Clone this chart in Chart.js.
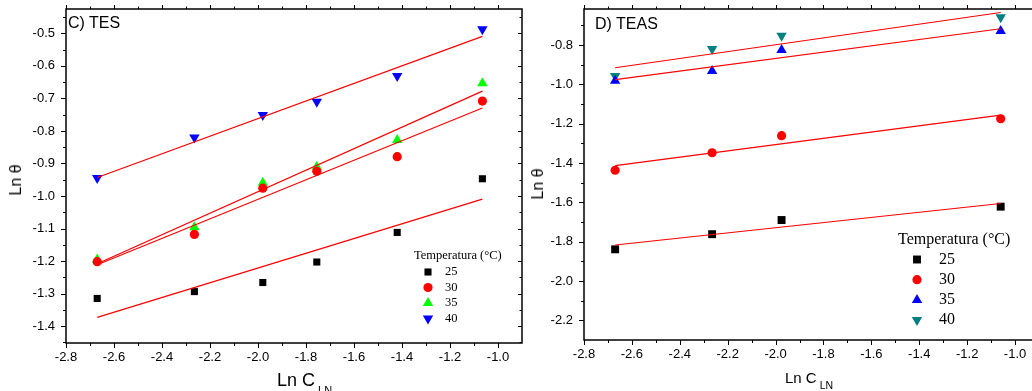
<!DOCTYPE html>
<html lang="pt-br">
<head>
    <meta charset="UTF-8">
    <title>Ln θ x Ln C - TES / TEAS</title>
    <script src="https://cdn.jsdelivr.net/npm/chart.js"></script>
    <style>
        body {
            margin: 0;
            width: 1032px;
            height: 391px;
            overflow: hidden;
            position: relative;
            background: #fff;
            font-family: Arial, "Liberation Sans", sans-serif;
            color: #000;
        }
        .painel {
            position: absolute;
            top: 0;
            height: 391px;
        }
        #painelC { left: 0; width: 530px; }
        #painelD { left: 530px; width: 520px; }
        .texto {
            position: absolute;
            line-height: 1;
            white-space: nowrap;
        }
        .rotulo-y {
            transform: translate(-50%, -50%) rotate(-90deg);
        }
        .texto sub {
            line-height: 1;
        }
    </style>
</head>
<body>
    <div class="painel" id="painelC"><canvas id="graficoTES"></canvas></div>
    <div class="painel" id="painelD"><canvas id="graficoTEAS"></canvas></div>

    <!-- titulos dos paineis e dos eixos -->
    <div class="texto" style="left:68px; top:15px; font-size:16px;">C) TES</div>
    <div class="texto" style="left:595px; top:16px; font-size:16px;">D) TEAS</div>
    <div class="texto rotulo-y" style="left:16px; top:180px; font-size:16px;">Ln θ</div>
    <div class="texto rotulo-y" style="left:538px; top:184px; font-size:16px;">Ln θ</div>
    <div class="texto" style="left:277px; top:371px; font-size:18px;">Ln C<sub style="font-size:11px; vertical-align:-8px; margin-left:3px;">LN</sub></div>
    <div class="texto" style="left:785px; top:370px; font-size:15px;">Ln C<sub style="font-size:10.5px; vertical-align:-5.5px; margin-left:3px;">LN</sub></div>

    <script>
        // Dados (Ln C no eixo x, Ln theta no eixo y)
        const lnC_TES = [-2.67, -2.265, -1.98, -1.755, -1.42, -1.065];
        const tes25 = [-1.315, -1.294, -1.266, -1.203, -1.112, -0.947];
        const tes30 = [-1.202, -1.118, -0.976, -0.924, -0.879, -0.708];
        const tes35 = [-1.195, -1.096, -0.959, -0.910, -0.828, -0.653];
        const tes40 = [-0.945, -0.820, -0.751, -0.710, -0.631, -0.487];

        const lnC_TEAS = [-2.67, -2.265, -1.975, -1.06];
        const teas25 = [-1.839, -1.762, -1.690, -1.622];
        const teas30 = [-1.437, -1.348, -1.261, -1.175];
        const teas35 = [-0.982, -0.932, -0.825, -0.729];
        const teas40 = [-0.958, -0.820, -0.753, -0.659];

        const temperaturas = ['25', '30', '35', '40'];

        // marcas dos eixos
        const eixoX = [-2.8, -2.6, -2.4, -2.2, -2.0, -1.8, -1.6, -1.4, -1.2, -1.0];
        const eixoY_TES = [-1.4, -1.3, -1.2, -1.1, -1.0, -0.9, -0.8, -0.7, -0.6, -0.5];
        const eixoY_TEAS = [-2.2, -2.0, -1.8, -1.6, -1.4, -1.2, -1.0, -0.8];

        Chart.defaults.font.family = 'Arial, "Liberation Sans", sans-serif';
        Chart.defaults.font.size = 13;
        Chart.defaults.color = '#000';

        // reta de ajuste (minimos quadrados) entre o menor e o maior x
        function ajuste(x, y) {
            const n = x.length;
            const mx = x.reduce((a, b) => a + b, 0) / n;
            const my = y.reduce((a, b) => a + b, 0) / n;
            let sxy = 0, sxx = 0;
            for (let i = 0; i < n; i++) {
                sxy += (x[i] - mx) * (y[i] - my);
                sxx += (x[i] - mx) * (x[i] - mx);
            }
            const b = sxy / sxx;
            const a = my - b * mx;
            const x0 = Math.min(...x), x1 = Math.max(...x);
            return [{ x: x0, y: a + b * x0 }, { x: x1, y: a + b * x1 }];
        }

        function pontos(x, y) {
            return x.map((v, i) => ({ x: v, y: y[i] }));
        }

        // moldura com marcas maiores e menores nos quatro lados
        const moldura = {
            id: 'moldura',
            afterDraw(chart, args, o) {
                const { ctx, chartArea: a, scales: { x, y } } = chart;
                const menores = (lista, passo, min, max) => {
                    const m = lista.map(v => v + passo / 2);
                    m.push(lista[0] - passo / 2);
                    return m.filter(v => v > min && v < max);
                };
                ctx.save();
                ctx.strokeStyle = '#000';
                ctx.lineWidth = 1;
                const linha = (x0, y0, x1, y1) => {
                    ctx.beginPath();
                    ctx.moveTo(x0, y0);
                    ctx.lineTo(x1, y1);
                    ctx.stroke();
                };
                const marcarX = (valores, tam, tamTopo) => {
                    valores.forEach(v => {
                        const px = Math.round(x.getPixelForValue(v)) + 0.5;
                        linha(px, a.bottom, px, a.bottom + tam);
                        linha(px, a.top, px, a.top - tamTopo);
                    });
                };
                const marcarY = (valores, tam, tamDir) => {
                    valores.forEach(v => {
                        const py = Math.round(y.getPixelForValue(v)) + 0.5;
                        linha(a.left, py, a.left - tam, py);
                        linha(a.right, py, a.right - tamDir, py);
                    });
                };
                marcarX(o.xs, 5, 4);
                marcarX(menores(o.xs, o.passoX, x.min, x.max), 3, 2.5);
                marcarY(o.ys, 5, 4);
                marcarY(menores(o.ys, o.passoY, y.min, y.max), 3, 2.5);
                ctx.lineWidth = 1.5;
                ctx.strokeRect(a.left, a.top, a.right - a.left, a.bottom - a.top);
                ctx.restore();
            }
        };

        // legenda "Temperatura (°C)" dentro da area do grafico
        const legendaTemp = {
            id: 'legendaTemp',
            afterDatasetsDraw(chart, args, o) {
                const ctx = chart.ctx;
                ctx.save();
                ctx.font = o.fonte + 'px "Liberation Serif", "Times New Roman", serif';
                ctx.fillStyle = '#000';
                ctx.textAlign = 'left';
                ctx.textBaseline = 'middle';
                ctx.fillText('Temperatura (°C)', o.x, o.y);
                const series = chart.data.datasets.filter(d => d.marcador);
                series.forEach((d, i) => {
                    const yy = o.y0 + i * o.passo;
                    ctx.fillStyle = d.backgroundColor;
                    ctx.strokeStyle = d.backgroundColor;
                    Chart.helpers.drawPoint(ctx, {
                        pointStyle: d.pointStyle,
                        radius: d.pointRadius,
                        rotation: d.pointRotation || 0,
                        borderWidth: 0
                    }, o.xMarca, yy);
                    ctx.fillStyle = '#000';
                    ctx.fillText(d.label, o.xTexto, yy);
                });
                ctx.restore();
            }
        };

        const cores = ['#000000', '#ff0000', '#00ff00', '#0000ff'];
        const coresTEAS = ['#000000', '#ff0000', '#0000ff', '#008080'];
        const estilos = ['rect', 'circle', 'triangle', 'triangle'];
        const rotacoes = [0, 0, 0, 180];

        function montar(idCanvas, xs, series, corLista, raios, eixoY, cfg) {
            const conjuntos = [];
            series.forEach((ys, i) => {
                conjuntos.push({
                    label: temperaturas[i],
                    marcador: true,
                    data: pontos(xs, ys),
                    pointStyle: estilos[i],
                    pointRotation: rotacoes[i],
                    pointRadius: raios[i],
                    backgroundColor: corLista[i],
                    borderColor: corLista[i],
                    pointBorderWidth: 0,
                    showLine: false,
                    order: 2
                });
            });
            series.forEach((ys) => {
                conjuntos.push({
                    label: 'ajuste',
                    data: ajuste(xs, ys),
                    showLine: true,
                    borderColor: '#ff0000',
                    borderWidth: 1.2,
                    pointRadius: 0,
                    order: 1
                });
            });

            return new Chart(document.getElementById(idCanvas), {
                type: 'scatter',
                data: { datasets: conjuntos },
                options: {
                    responsive: true,
                    maintainAspectRatio: false,
                    animation: false,
                    layout: { padding: { top: 9, right: cfg.padDir, left: 0, bottom: 0 } },
                    plugins: {
                        legend: { display: false },
                        tooltip: { enabled: false },
                        moldura: { xs: eixoX, ys: eixoY, passoX: 0.2, passoY: cfg.passoY },
                        legendaTemp: cfg.legenda
                    },
                    scales: {
                        x: {
                            type: 'linear',
                            min: -2.8,
                            max: -0.9,
                            grid: { display: false, drawTicks: false },
                            border: { display: false },
                            afterBuildTicks: s => { s.ticks = eixoX.map(v => ({ value: v })); },
                            afterFit: s => { s.height = cfg.altX; s.paddingLeft = 0; s.paddingRight = 0; },
                            ticks: {
                                autoSkip: false,
                                maxRotation: 0,
                                padding: 7,
                                callback: v => v.toFixed(1)
                            }
                        },
                        y: {
                            type: 'linear',
                            min: cfg.yMin,
                            max: cfg.yMax,
                            grid: { display: false, drawTicks: false },
                            border: { display: false },
                            afterBuildTicks: s => { s.ticks = eixoY.map(v => ({ value: v })); },
                            afterFit: s => { s.width = cfg.largY; s.paddingTop = 0; s.paddingBottom = 0; },
                            ticks: {
                                autoSkip: false,
                                padding: 11,
                                callback: v => v.toFixed(1)
                            }
                        }
                    }
                },
                plugins: [moldura, legendaTemp]
            });
        }

        // Painel C) TES
        montar('graficoTES', lnC_TES, [tes25, tes30, tes35, tes40], cores, [5, 4.6, 6, 6], eixoY_TES, {
            padDir: 8, altX: 48, largY: 66, yMin: -1.452, yMax: -0.425, passoY: 0.1,
            legenda: { fonte: 12.5, x: 414, y: 256, y0: 272, passo: 15.5, xMarca: 428, xTexto: 445 }
        });

        // Painel D) TEAS
        montar('graficoTEAS', lnC_TEAS, [teas25, teas30, teas35, teas40], coresTEAS, [5.6, 4.6, 6, 6], eixoY_TEAS, {
            padDir: 11, altX: 51, largY: 54, yMin: -2.3, yMax: -0.617, passoY: 0.2,
            legenda: { fonte: 16, x: 368, y: 240, y0: 259.5, passo: 20.2, xMarca: 387, xTexto: 409 }
        });
    </script>
</body>
</html>
